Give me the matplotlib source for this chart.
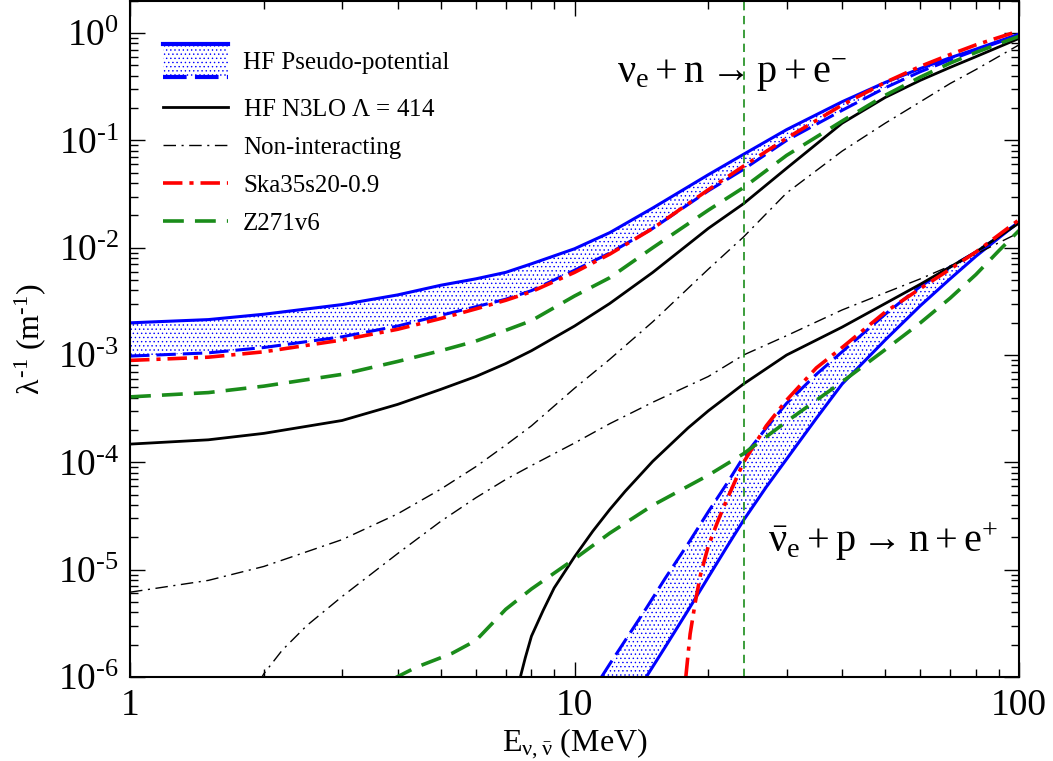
import numpy as np
import matplotlib.pyplot as plt
from matplotlib.legend_handler import HandlerBase
from matplotlib.patches import Rectangle
from matplotlib.lines import Line2D
from matplotlib.ticker import LogLocator, FuncFormatter, NullFormatter

plt.rcParams['font.family'] = ['Liberation Serif', 'DejaVu Serif']
plt.rcParams['mathtext.fontset'] = 'custom'
plt.rcParams['mathtext.rm'] = 'Liberation Serif'
plt.rcParams['mathtext.it'] = 'Liberation Serif'
plt.rcParams['mathtext.bf'] = 'Liberation Serif:bold'
plt.rcParams['lines.scale_dashes'] = False
plt.rcParams['hatch.linewidth'] = 0.5

HY = '\u2010'  # short hyphen used in exponents

# energies (MeV) and log10 of inverse mean free path (m^-1)
# nu_e + n -> p + e-
e_nu = [1, 1.5, 2, 3, 4, 5, 6, 7, 8, 10, 12, 15, 20, 24, 30, 40, 50, 60, 70, 80, 100]
nu_pseudo_hi = [-2.70, -2.67, -2.62, -2.53, -2.44, -2.35, -2.29, -2.23, -2.15, -2.01, -1.86, -1.63,
                -1.32, -1.13, -0.90, -0.64, -0.46, -0.33, -0.23, -0.15, -0.01]
nu_pseudo_lo = [-3.01, -2.98, -2.93, -2.83, -2.73, -2.63, -2.55, -2.48, -2.40, -2.21, -2.05, -1.82,
                -1.47, -1.27, -1.00, -0.72, -0.51, -0.36, -0.25, -0.16, -0.02]
nu_n3lo = [-3.83, -3.79, -3.73, -3.61, -3.46, -3.32, -3.20, -3.08, -2.96, -2.73, -2.52, -2.23,
           -1.82, -1.59, -1.26, -0.84, -0.60, -0.44, -0.32, -0.22, -0.05]
nu_free = [-5.21, -5.10, -4.97, -4.72, -4.48, -4.25, -4.04, -3.84, -3.66, -3.31, -3.04, -2.69,
           -2.20, -1.90, -1.49, -1.10, -0.84, -0.64, -0.47, -0.34, -0.11]
nu_ska = [-3.05, -3.02, -2.97, -2.86, -2.76, -2.66, -2.57, -2.49, -2.41, -2.23, -2.06, -1.82,
          -1.46, -1.24, -0.98, -0.67, -0.46, -0.31, -0.20, -0.11, 0.02]
nu_z271 = [-3.39, -3.35, -3.29, -3.18, -3.06, -2.96, -2.87, -2.77, -2.68, -2.45, -2.28, -2.00,
           -1.65, -1.44, -1.14, -0.82, -0.58, -0.41, -0.28, -0.18, -0.03]

# anti-nu_e + p -> n + e+
e_bar = [11.5, 12, 13, 14.5, 16, 18, 20, 22, 24, 27, 30, 35, 40, 50, 60, 70, 80, 90, 100]
bar_pseudo_hi = [-6.0, -5.88, -5.66, -5.36, -5.08, -4.76, -4.46, -4.20, -3.95, -3.68, -3.45, -3.18,
                 -2.97, -2.62, -2.36, -2.18, -2.04, -1.90, -1.76]
bar_pseudo_lo = [-6.7, -6.55, -6.32, -6.0, -5.72, -5.38, -5.07, -4.79, -4.54, -4.23, -3.97, -3.59,
                 -3.27, -2.86, -2.54, -2.29, -2.08, -1.91, -1.76]

e_bar_n3lo = [7.5, 7.75, 8, 8.5, 9, 10, 11, 12, 13, 15, 18, 20, 24, 30, 40, 50, 60, 70, 80, 100]
bar_n3lo = [-6.05, -5.82, -5.62, -5.38, -5.17, -4.88, -4.64, -4.44, -4.27, -3.99, -3.68, -3.52,
            -3.27, -3.00, -2.74, -2.52, -2.34, -2.18, -2.04, -1.77]

e_bar_free = [1.95, 2, 2.2, 2.5, 3, 4, 5, 6, 7, 8, 10, 12, 15, 20, 24, 30, 40, 50, 60, 70, 80, 100]
bar_free = [-6.05, -5.97, -5.75, -5.52, -5.25, -4.85, -4.55, -4.33, -4.16, -4.03, -3.82, -3.64,
            -3.44, -3.20, -3.00, -2.82, -2.58, -2.42, -2.29, -2.17, -2.06, -1.86]

e_bar_ska = [17.8, 18.2, 18.7, 19.2, 20, 21, 22, 24, 27, 30, 35, 40, 50, 60, 70, 80, 100]
bar_ska = [-6.0, -5.6, -5.3, -5.05, -4.78, -4.55, -4.35, -4.00, -3.66, -3.42, -3.12, -2.93,
           -2.60, -2.38, -2.20, -2.04, -1.74]

e_bar_z271 = [3.9, 4.4, 5.3, 6, 7, 8, 10, 12, 15, 20, 24, 30, 40, 50, 60, 70, 80, 90, 100]
bar_z271 = [-6.02, -5.91, -5.78, -5.66, -5.37, -5.18, -4.90, -4.66, -4.40, -4.12, -3.92, -3.62,
            -3.25, -2.95, -2.70, -2.47, -2.25, -2.03, -1.84]

e_cut = 24.0

blue = '#0000ff'
red = '#ff0000'
green = '#1a8c1a'
band_hatch = '....'
band_dashes = (14, 5)

fig = plt.figure(figsize=(10.53, 7.61), dpi=100)
ax = fig.add_axes([0.1235, 0.1104, 0.8442, 0.8886])


def lin(v):
    return 10.0 ** np.asarray(v)


def band(x, solid, dashed):
    ax.fill_between(x, lin(solid), lin(dashed), facecolor='none', edgecolor=blue,
                    hatch=band_hatch, linewidth=0)
    ax.plot(x, lin(solid), color=blue, lw=2.2)
    ax.plot(x, lin(dashed), color=blue, lw=2.2, dashes=band_dashes)


# solid bound on top for nu, at the bottom for anti-nu
band(e_nu, nu_pseudo_hi, nu_pseudo_lo)
band(e_bar, bar_pseudo_lo, bar_pseudo_hi)

ax.plot(e_nu, lin(nu_n3lo), color='k', lw=2.0)
ax.plot(e_bar_n3lo, lin(bar_n3lo), color='k', lw=2.0)
ax.plot(e_nu, lin(nu_free), color='k', lw=1.0, dashes=(9, 4, 1.5, 4))
ax.plot(e_bar_free, lin(bar_free), color='k', lw=1.0, dashes=(9, 4, 1.5, 4))
ax.plot(e_nu, lin(nu_ska), color=red, lw=2.6, dashes=(14, 5, 3, 5))
ax.plot(e_bar_ska, lin(bar_ska), color=red, lw=2.6, dashes=(14, 5, 3, 5))
ax.plot(e_nu, lin(nu_z271), color=green, lw=2.6, dashes=(15, 8))
ax.plot(e_bar_z271, lin(bar_z271), color=green, lw=2.6, dashes=(15, 8))

ax.axvline(e_cut, color=green, lw=1.2, dashes=(6, 4))

ax.set_xscale('log')
ax.set_yscale('log')
ax.set_xlim(1, 100)
ax.set_ylim(1e-6, 2)


def ylabel_fmt(v, p):
    e = int(round(np.log10(v)))
    return r'$10^{' + str(e).replace('-', HY) + '}$'


ax.xaxis.set_major_formatter(FuncFormatter(lambda v, p: f'{v:g}'))
ax.xaxis.set_minor_formatter(NullFormatter())
ax.yaxis.set_major_locator(LogLocator(base=10, numticks=20))
ax.yaxis.set_major_formatter(FuncFormatter(ylabel_fmt))
ax.yaxis.set_minor_locator(LogLocator(base=10, subs=np.arange(2, 10), numticks=20))
ax.yaxis.set_minor_formatter(NullFormatter())

ax.tick_params(which='both', direction='in', top=True, right=True, width=1.0,
               labelsize=27, colors='k')
ax.tick_params(which='major', length=11, pad=8)
ax.tick_params(which='minor', length=5.5)
for s in ax.spines.values():
    s.set_linewidth(1.5)

ax.set_xlabel(r'$\mathrm{E}_{\nu,\bar{\nu}}$ (MeV)', fontsize=23)
ax.xaxis.set_label_coords(0.5, -0.074)
ax.set_ylabel(r'$\lambda^{' + HY + '1}$ (m$^{' + HY + '1}$)', fontsize=23)
ax.yaxis.set_label_coords(-0.092, 0.5)

ax.text(12.46, 0.343, r'$\nu_\mathrm{e} + \mathrm{n} \rightarrow \mathrm{p} + \mathrm{e}^{-}$',
        fontsize=29, va='baseline')
ax.text(27.2, 1.45e-5, r'$\bar{\nu}_\mathrm{e} + \mathrm{p} \rightarrow \mathrm{n} + \mathrm{e}^{+}$',
        fontsize=29, va='baseline')


class BandHandler(HandlerBase):
    def create_artists(self, legend, orig_handle, xdescent, ydescent, width, height,
                       fontsize, trans):
        y0 = -ydescent - 0.45 * height
        y1 = -ydescent + 1.45 * height
        x0 = -xdescent
        rect = Rectangle((x0, y0), width, y1 - y0, facecolor='none', edgecolor=blue,
                         hatch=band_hatch, linewidth=0, transform=trans)
        top = Line2D([x0, x0 + width], [y1, y1], color=blue, lw=3, transform=trans)
        bot = Line2D([x0, x0 + width], [y0, y0], color=blue, lw=3, dashes=(17, 6),
                     transform=trans)
        return [rect, top, bot]


leg1 = ax.legend([Rectangle((0, 0), 1, 1)], ['HF Pseudo-potential'],
                 handler_map={Rectangle: BandHandler()},
                 loc='upper left', bbox_to_anchor=(0.037, 0.925), frameon=False,
                 fontsize=18, handlelength=2.6, handletextpad=0.6,
                 borderpad=0, borderaxespad=0)
ax.add_artist(leg1)

h = [Line2D([], [], color='k', lw=2.0),
     Line2D([], [], color='k', lw=1.0, dashes=(9, 4, 1.5, 4)),
     Line2D([], [], color=red, lw=2.6, dashes=(14, 5, 3, 5)),
     Line2D([], [], color=green, lw=2.6, dashes=(15, 8))]
ax.legend(h, [r'HF N3LO $\Lambda$ = 414', 'Non-interacting', 'Ska35s20-0.9', 'Z271v6'],
          loc='upper left', bbox_to_anchor=(0.037, 0.856), frameon=False,
          fontsize=18, handlelength=2.6, handletextpad=0.6, labelspacing=0.62,
          borderpad=0, borderaxespad=0)

fig.savefig('out.png', dpi=100)
